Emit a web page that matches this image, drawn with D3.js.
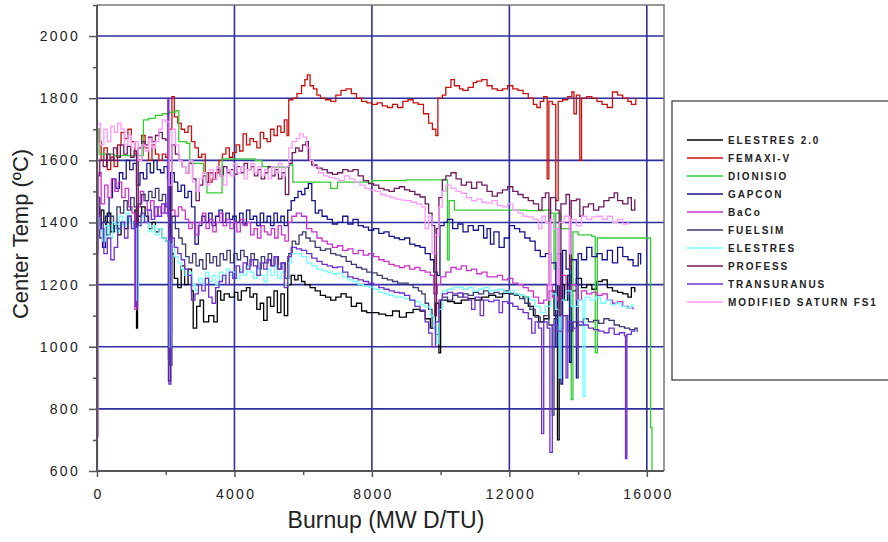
<!DOCTYPE html>
<html>
<head>
<meta charset="utf-8">
<script src="https://cdn.jsdelivr.net/npm/d3@7"></script>
<style>
  body { margin: 0; background: #fff; }
  svg { display: block; font-family: Arial, "Liberation Sans", sans-serif; }
</style>
</head>
<body>
<div id="chart"></div>
<script>
// burnup (MW D/TU), center temperature (degC)
const elestres20 = [[0,1480],[40,1380],[120,1440],[200,1400],[300,1430],[400,1370],[500,1390],[600,1360],[700,1400],[800,1380],[900,1420],[1000,1400],[1100,1440],[1150,1060],[1180,1420],[1300,1450],[1400,1420],[1500,1380],[1600,1400],[1700,1370],[1800,1380],[1900,1350],[2000,1340],[2080,890],[2140,1300],[2250,1220],[2350,1190],[2450,1260],[2550,1200],[2650,1250],[2750,1180],[2800,1060],[2900,1130],[3000,1150],[3100,1080],[3250,1100],[3400,1080],[3500,1180],[3600,1150],[3700,1170],[3850,1160],[4000,1175],[4100,1150],[4200,1180],[4350,1190],[4450,1160],[4550,1170],[4650,1120],[4750,1140],[4850,1085],[4950,1160],[5050,1130],[5150,1180],[5250,1110],[5350,1170],[5450,1100],[5550,1200],[5650,1230],[5750,1215],[5850,1230],[5950,1210],[6050,1200],[6200,1190],[6350,1180],[6500,1165],[6650,1160],[6800,1150],[6950,1160],[7100,1170],[7250,1160],[7400,1130],[7550,1140],[7700,1115],[7850,1110],[8000,1110],[8200,1105],[8400,1100],[8600,1115],[8800,1095],[9000,1110],[9200,1120],[9400,1115],[9550,1090],[9700,1060],[9850,1140],[9950,980],[10000,1150],[10200,1145],[10400,1140],[10600,1150],[10800,1155],[11000,1150],[11200,1160],[11400,1165],[11600,1160],[11800,1172],[12000,1170],[12200,1165],[12400,1160],[12550,1130],[12700,1100],[12850,1080],[13000,1090],[13150,1180],[13300,1100],[13400,700],[13450,1200],[13600,1150],[13700,1230],[13800,1180],[13950,1220],[14100,1190],[14250,1200],[14400,1185],[14550,1210],[14700,1215],[14850,1190],[15000,1180],[15150,1175],[15300,1170],[15450,1160],[15550,1190],[15650,1175]];

const femaxi = [[0,1700],[60,1660],[120,1600],[200,1640],[300,1570],[400,1610],[500,1580],[600,1650],[700,1690],[800,1670],[900,1700],[1000,1660],[1100,1620],[1200,1600],[1300,1680],[1400,1640],[1500,1600],[1600,1650],[1700,1620],[1800,1600],[1900,1620],[2000,1610],[2100,1700],[2180,1805],[2250,1740],[2350,1720],[2450,1700],[2550,1690],[2650,1710],[2750,1660],[2850,1640],[2950,1610],[3050,1620],[3150,1560],[3250,1530],[3350,1540],[3450,1560],[3550,1600],[3650,1620],[3750,1640],[3850,1610],[3950,1625],[4050,1650],[4150,1630],[4250,1685],[4350,1650],[4450,1670],[4550,1660],[4650,1640],[4750,1690],[4850,1670],[4950,1660],[5050,1700],[5150,1680],[5250,1710],[5350,1690],[5450,1730],[5530,1680],[5580,1795],[5700,1800],[5820,1815],[5950,1840],[6050,1860],[6120,1875],[6200,1840],[6300,1830],[6400,1810],[6500,1800],[6650,1795],[6800,1790],[6950,1810],[7100,1825],[7250,1830],[7400,1815],[7550,1800],[7700,1790],[7850,1785],[8000,1780],[8150,1785],[8300,1775],[8450,1770],[8600,1780],[8750,1770],[8900,1790],[9050,1795],[9200,1785],[9350,1780],[9500,1750],[9650,1720],[9760,1700],[9860,1680],[9920,1800],[10050,1810],[10150,1835],[10300,1860],[10400,1840],[10550,1830],[10650,1825],[10800,1835],[10950,1850],[11050,1855],[11200,1860],[11350,1840],[11500,1830],[11650,1825],[11800,1830],[11950,1840],[12100,1830],[12250,1825],[12400,1815],[12550,1800],[12700,1780],[12800,1770],[12900,1790],[13000,1805],[13100,1540],[13150,1790],[13250,1780],[13350,1470],[13420,1790],[13550,1795],[13700,1805],[13820,1820],[13880,1750],[13950,1810],[14050,1600],[14100,1800],[14250,1805],[14400,1800],[14550,1790],[14700,1780],[14850,1770],[15000,1820],[15150,1810],[15300,1800],[15450,1790],[15550,1780],[15680,1800]];

const dionisio = [[0,1700],[60,1620],[500,1615],[1000,1615],[1300,1615],[1350,1730],[1500,1735],[1700,1745],[1900,1750],[2100,1755],[2300,1760],[2380,1660],[2600,1655],[2700,1590],[3000,1590],[3100,1560],[3200,1495],[3600,1495],[3640,1605],[4000,1605],[4600,1600],[4800,1580],[5000,1578],[5600,1585],[5700,1530],[6000,1530],[6500,1530],[6800,1510],[7000,1530],[8000,1535],[9000,1537],[10100,1537],[10200,1280],[10250,1470],[10400,1440],[11000,1440],[12000,1440],[12500,1438],[13000,1440],[13200,1430],[13300,1250],[13350,1430],[13500,1380],[13700,1380],[13800,830],[13850,1370],[14000,1360],[14400,1355],[14500,980],[14560,1350],[15000,1350],[15500,1350],[16100,1350],[16110,740],[16150,600]];

const gapcon = [[0,1450],[80,1380],[160,1320],[250,1420],[350,1480],[450,1540],[550,1510],[650,1560],[750,1540],[850,1600],[950,1570],[1050,1590],[1150,1520],[1250,1560],[1350,1540],[1450,1590],[1550,1560],[1650,1600],[1750,1570],[1850,1560],[1950,1580],[2050,1540],[2080,960],[2140,1560],[2250,1530],[2350,1500],[2450,1520],[2550,1480],[2650,1500],[2750,1450],[2850,1330],[2950,1390],[3050,1420],[3150,1400],[3250,1430],[3350,1390],[3450,1420],[3550,1440],[3650,1400],[3750,1430],[3850,1410],[3950,1420],[4050,1400],[4150,1430],[4250,1395],[4350,1440],[4450,1410],[4550,1420],[4650,1390],[4750,1430],[4850,1400],[4950,1420],[5050,1390],[5150,1430],[5250,1400],[5350,1420],[5450,1390],[5550,1440],[5650,1470],[5750,1480],[5850,1500],[5950,1490],[6050,1510],[6150,1525],[6250,1470],[6350,1430],[6450,1440],[6550,1420],[6700,1410],[6850,1395],[7000,1400],[7150,1420],[7300,1395],[7450,1410],[7600,1390],[7750,1385],[7900,1375],[8050,1380],[8200,1365],[8350,1370],[8500,1355],[8650,1350],[8800,1345],[8950,1350],[9100,1330],[9250,1325],[9400,1320],[9550,1300],[9700,1280],[9800,1240],[9900,1230],[9980,1390],[10100,1400],[10200,1410],[10350,1380],[10500,1395],[10650,1370],[10800,1390],[10950,1375],[11100,1390],[11250,1350],[11350,1380],[11450,1330],[11550,1370],[11700,1320],[11850,1350],[12000,1390],[12150,1380],[12300,1370],[12450,1350],[12600,1340],[12750,1310],[12900,1290],[13050,1300],[13200,1270],[13350,1000],[13400,1300],[13500,880],[13550,1310],[13650,1250],[13750,950],[13800,1280],[13950,900],[14000,1300],[14100,1280],[14250,1320],[14400,1290],[14550,1300],[14700,1280],[14850,1310],[15000,1270],[15150,1320],[15300,1290],[15450,1280],[15600,1260],[15750,1300],[15820,1265]];

const baco = [[0,1300],[40,1560],[120,1460],[220,1520],[320,1480],[420,1540],[520,1500],[620,1530],[720,1480],[820,1510],[920,1450],[1020,1430],[1100,1120],[1160,1450],[1260,1500],[1360,1470],[1460,1440],[1560,1470],[1660,1420],[1760,1450],[1860,1430],[1960,1460],[2060,1420],[2110,1050],[2170,1440],[2270,1420],[2370,1450],[2470,1440],[2570,1410],[2670,1380],[2770,1400],[2870,1360],[2970,1400],[3070,1430],[3170,1380],[3270,1410],[3370,1370],[3470,1400],[3570,1430],[3670,1390],[3770,1410],[3870,1380],[3970,1400],[4070,1370],[4170,1410],[4270,1390],[4370,1400],[4470,1360],[4570,1380],[4670,1350],[4770,1390],[4870,1370],[4970,1360],[5070,1380],[5170,1350],[5270,1390],[5370,1360],[5470,1340],[5570,1400],[5670,1420],[5800,1430],[5950,1420],[6100,1380],[6250,1370],[6400,1350],[6550,1340],[6700,1330],[6850,1320],[7000,1325],[7150,1310],[7300,1315],[7450,1300],[7600,1310],[7750,1295],[7900,1300],[8050,1290],[8200,1280],[8350,1275],[8500,1265],[8650,1260],[8800,1255],[8950,1260],[9100,1250],[9250,1255],[9400,1245],[9550,1240],[9700,1230],[9800,1170],[9900,1200],[10000,1225],[10150,1240],[10300,1255],[10450,1250],[10600,1260],[10750,1245],[10900,1250],[11050,1235],[11200,1240],[11350,1225],[11500,1225],[11650,1230],[11800,1215],[11950,1220],[12100,1205],[12250,1200],[12400,1190],[12550,1180],[12700,1160],[12850,1140],[13000,1150],[13100,1200],[13250,1160],[13400,1150],[13500,1230],[13650,1170],[13800,1200],[13950,1150],[14100,1180],[14250,1170],[14400,1175],[14550,1165],[14700,1170],[14850,1150],[15000,1140],[15150,1145],[15300,1130],[15450,1125],[15600,1120]];

const fuelsim = [[0,1480],[80,1350],[180,1400],[280,1360],[380,1420],[480,1380],[580,1450],[680,1430],[780,1470],[880,1440],[980,1480],[1080,1450],[1150,1180],[1200,1460],[1300,1490],[1400,1470],[1500,1500],[1600,1480],[1700,1510],[1800,1470],[1900,1490],[2000,1450],[2100,940],[2180,1420],[2280,1380],[2380,1350],[2480,1330],[2580,1290],[2680,1270],[2780,1300],[2880,1260],[2980,1280],[3080,1250],[3180,1300],[3280,1270],[3380,1290],[3480,1260],[3580,1300],[3680,1280],[3780,1310],[3880,1270],[3980,1300],[4080,1280],[4180,1310],[4280,1290],[4380,1260],[4480,1300],[4580,1280],[4680,1250],[4780,1290],[4880,1270],[4980,1300],[5080,1260],[5180,1290],[5280,1250],[5380,1270],[5480,1220],[5580,1300],[5680,1340],[5780,1330],[5880,1360],[5980,1370],[6080,1350],[6200,1340],[6350,1320],[6500,1310],[6650,1315],[6800,1300],[6950,1295],[7100,1290],[7250,1275],[7400,1265],[7550,1255],[7700,1250],[7850,1240],[8000,1238],[8150,1230],[8300,1220],[8450,1215],[8600,1210],[8750,1205],[8900,1205],[9050,1200],[9200,1190],[9350,1180],[9450,1170],[9550,1140],[9650,1120],[9750,1060],[9850,1040],[9950,1120],[10050,1160],[10200,1150],[10350,1165],[10500,1160],[10650,1170],[10800,1165],[10950,1175],[11100,1170],[11250,1180],[11400,1170],[11550,1175],[11700,1170],[11850,1180],[12000,1172],[12150,1165],[12300,1155],[12450,1140],[12600,1120],[12750,1095],[12900,1080],[13000,1100],[13150,1070],[13250,780],[13300,1090],[13450,1060],[13550,1100],[13700,1050],[13850,1080],[14000,1070],[14150,1090],[14300,1080],[14450,1085],[14600,1075],[14750,1090],[14900,1085],[15050,1070],[15200,1065],[15350,1060],[15500,1055],[15650,1060],[15720,1048]];

const elestres = [[0,1420],[60,1380],[150,1340],[250,1390],[350,1350],[450,1400],[550,1370],[650,1420],[750,1390],[850,1430],[950,1400],[1050,1380],[1150,1150],[1200,1390],[1300,1420],[1400,1400],[1500,1370],[1600,1390],[1700,1360],[1800,1380],[1900,1350],[2000,1340],[2100,1000],[2160,1330],[2260,1290],[2360,1270],[2460,1250],[2560,1230],[2660,1240],[2760,1200],[2860,1180],[2960,1220],[3060,1200],[3160,1240],[3260,1210],[3360,1230],[3460,1200],[3560,1240],[3660,1220],[3760,1250],[3860,1230],[3960,1240],[4060,1220],[4160,1250],[4260,1230],[4360,1260],[4460,1240],[4560,1220],[4660,1250],[4760,1230],[4860,1210],[4960,1250],[5060,1230],[5160,1260],[5260,1220],[5360,1240],[5460,1200],[5560,1270],[5660,1300],[5800,1300],[5950,1290],[6100,1270],[6250,1260],[6400,1250],[6550,1245],[6700,1240],[6850,1235],[7000,1237],[7150,1225],[7300,1215],[7450,1210],[7600,1200],[7750,1195],[7900,1192],[8050,1185],[8200,1175],[8350,1170],[8500,1165],[8650,1160],[8800,1160],[8950,1155],[9100,1150],[9250,1145],[9400,1135],[9550,1128],[9700,1100],[9800,1060],[9880,1010],[9950,1120],[10050,1180],[10200,1185],[10350,1190],[10500,1192],[10650,1185],[10800,1190],[10950,1180],[11100,1185],[11250,1190],[11400,1180],[11550,1182],[11700,1185],[11850,1175],[12000,1180],[12150,1170],[12300,1165],[12450,1160],[12600,1150],[12750,1130],[12900,1110],[13050,1130],[13200,1170],[13350,1120],[13450,900],[13500,1150],[13650,1180],[13800,1130],[14000,1150],[14140,840],[14200,1160],[14350,1150],[14500,1160],[14650,1140],[14800,1150],[14950,1135],[15100,1140],[15250,1130],[15400,1125],[15550,1135],[15600,1128]];

const profess = [[0,1550],[80,1600],[180,1580],[280,1620],[380,1600],[480,1640],[580,1610],[680,1650],[780,1620],[880,1645],[980,1610],[1080,1630],[1150,1400],[1200,1640],[1300,1660],[1400,1650],[1500,1675],[1600,1660],[1700,1680],[1800,1690],[1900,1670],[2000,1665],[2100,1440],[2180,1650],[2280,1620],[2380,1600],[2480,1580],[2580,1560],[2680,1590],[2780,1540],[2880,1470],[2980,1520],[3080,1550],[3180,1530],[3280,1560],[3380,1540],[3480,1570],[3580,1550],[3680,1580],[3780,1560],[3880,1570],[3980,1555],[4080,1580],[4180,1560],[4280,1590],[4380,1570],[4480,1580],[4580,1550],[4680,1570],[4780,1540],[4880,1560],[4980,1580],[5080,1550],[5180,1570],[5280,1540],[5380,1560],[5480,1490],[5580,1590],[5680,1625],[5780,1640],[5880,1630],[5980,1650],[6080,1660],[6150,1600],[6250,1585],[6400,1575],[6550,1570],[6700,1560],[6850,1555],[7000,1560],[7150,1570],[7300,1565],[7450,1570],[7600,1550],[7750,1535],[7900,1525],[8050,1520],[8200,1510],[8350,1505],[8500,1500],[8650,1510],[8800,1515],[8950,1505],[9100,1500],[9250,1490],[9400,1482],[9550,1460],[9650,1430],[9750,1390],[9830,1100],[9880,1380],[9950,1480],[10050,1537],[10150,1550],[10300,1560],[10450,1540],[10600,1520],[10750,1530],[10900,1510],[11050,1530],[11200,1520],[11350,1500],[11500,1485],[11650,1495],[11800,1505],[11950,1515],[12100,1500],[12250,1490],[12400,1480],[12550,1470],[12700,1460],[12850,1440],[12950,1480],[13050,1495],[13150,1200],[13200,1480],[13350,1440],[13450,1100],[13500,1460],[13650,1490],[13750,1250],[13800,1470],[13950,1475],[14050,1420],[14150,1450],[14300,1460],[14450,1440],[14600,1450],[14750,1470],[14900,1480],[15050,1495],[15150,1470],[15300,1460],[15450,1480],[15550,1440],[15650,1475]];

const transuranus = [[0,710],[30,1420],[100,1380],[200,1300],[300,1350],[400,1280],[500,1320],[600,1380],[700,1400],[800,1350],[900,1420],[1000,1380],[1080,1400],[1120,1130],[1180,1390],[1280,1430],[1380,1400],[1480,1440],[1580,1410],[1680,1450],[1780,1420],[1880,1460],[1980,1430],[2060,1800],[2090,880],[2150,1350],[2250,1320],[2350,1300],[2450,1280],[2550,1250],[2650,1230],[2750,1150],[2850,1170],[2950,1200],[3050,1180],[3150,1220],[3250,1160],[3350,1140],[3450,1190],[3550,1210],[3650,1230],[3750,1200],[3850,1240],[3950,1220],[4050,1260],[4150,1240],[4250,1270],[4350,1250],[4450,1280],[4550,1260],[4650,1230],[4750,1270],[4850,1250],[4950,1280],[5050,1260],[5150,1290],[5250,1250],[5350,1270],[5450,1190],[5550,1290],[5650,1320],[5800,1315],[5950,1310],[6100,1300],[6250,1285],[6400,1275],[6550,1265],[6700,1260],[6850,1255],[7000,1257],[7150,1240],[7300,1225],[7450,1220],[7600,1215],[7750,1210],[7900,1205],[8050,1200],[8200,1190],[8350,1185],[8500,1180],[8650,1175],[8800,1173],[8950,1165],[9100,1150],[9250,1130],[9400,1118],[9550,1080],[9650,1044],[9750,1000],[9850,1080],[9950,1150],[10050,1170],[10200,1175],[10350,1170],[10500,1173],[10650,1160],[10800,1150],[10900,1120],[11000,1160],[11150,1100],[11250,1150],[11400,1145],[11550,1150],[11700,1110],[11800,1145],[11950,1140],[12100,1130],[12250,1120],[12400,1110],[12550,1090],[12650,1044],[12750,1080],[12850,1060],[12940,720],[13000,1080],[13100,1060],[13180,660],[13250,1070],[13400,1050],[13550,1100],[13650,900],[13700,1080],[13850,1060],[13950,1000],[14000,1080],[14150,1070],[14300,1060],[14450,1055],[14600,1050],[14750,1045],[14900,1060],[15050,1040],[15200,1045],[15350,1035],[15380,640],[15420,1040],[15550,1050],[15650,1054]];

const saturn = [[0,600],[20,1720],[100,1650],[200,1700],[300,1660],[400,1710],[500,1690],[600,1720],[700,1700],[800,1650],[900,1680],[1000,1640],[1100,1660],[1200,1600],[1300,1650],[1400,1630],[1500,1670],[1600,1640],[1700,1660],[1800,1700],[1900,1730],[2000,1725],[2100,1520],[2180,1700],[2280,1650],[2380,1600],[2480,1580],[2580,1560],[2680,1600],[2780,1530],[2880,1500],[2980,1540],[3080,1560],[3180,1520],[3280,1570],[3380,1540],[3480,1580],[3580,1550],[3680,1520],[3780,1570],[3880,1550],[3980,1590],[4080,1560],[4180,1580],[4280,1540],[4380,1570],[4480,1590],[4580,1560],[4680,1580],[4780,1550],[4880,1570],[4980,1540],[5080,1580],[5180,1560],[5280,1590],[5380,1550],[5480,1580],[5580,1640],[5680,1660],[5800,1670],[5900,1685],[6000,1675],[6100,1640],[6200,1600],[6300,1580],[6450,1560],[6600,1550],[6750,1545],[6900,1540],[7050,1535],[7200,1550],[7350,1540],[7500,1530],[7650,1520],[7800,1510],[7950,1504],[8100,1500],[8250,1490],[8400,1485],[8550,1480],[8700,1475],[8850,1472],[9000,1470],[9150,1465],[9300,1460],[9450,1450],[9550,1380],[9650,1420],[9750,1300],[9850,1360],[9950,1450],[10050,1500],[10150,1520],[10300,1510],[10450,1500],[10600,1494],[10750,1480],[10900,1470],[11050,1475],[11200,1465],[11350,1462],[11500,1470],[11650,1455],[11800,1450],[11950,1460],[12100,1440],[12250,1430],[12400,1420],[12550,1418],[12700,1410],[12850,1380],[12950,1420],[13050,1400],[13150,1150],[13200,1410],[13300,1380],[13400,1200],[13450,1400],[13600,1420],[13750,1300],[13800,1410],[13950,1390],[14100,1420],[14250,1410],[14400,1418],[14550,1420],[14700,1410],[14850,1420],[15000,1400],[15150,1410],[15300,1395],[15450,1402]];

const seriesNames = ["ELESTRES 2.0", "FEMAXI-V", "DIONISIO", "GAPCON", "BaCo", "FUELSIM", "ELESTRES", "PROFESS", "TRANSURANUS", "MODIFIED SATURN FS1"];
const seriesData = [elestres20, femaxi, dionisio, gapcon, baco, fuelsim, elestres, profess, transuranus, saturn];
const seriesColors = ["#000000", "#c81010", "#33cc33", "#14148c", "#cc33cc", "#3a3a70", "#70ffff", "#6e1a5e", "#7030d0", "#ff99ff"];

const xTicks = [0, 4000, 8000, 12000, 16000];
const xMinor = [2000, 6000, 10000, 14000];
const yTicks = [600, 800, 1000, 1200, 1400, 1600, 1800, 2000];
const yMinor = [700, 900, 1100, 1300, 1500, 1700, 1900, 2100];

const
    width = 888,
    height = 542;

var svg = d3
    .select("#chart")
    .append("svg")
    .attr("width", width)
    .attr("height", height)

var x = d3.scaleLinear().domain([0, 16500]).range([97, 664]);
var y = d3.scaleLinear().domain([600, 2100]).range([471, 5]);

svg.append("defs").append("clipPath").attr("id", "plot")
    .append("rect")
    .attr("x", x(0)).attr("y", y(2100))
    .attr("width", x(16500) - x(0)).attr("height", y(600) - y(2100));

// grid
svg.append("g")
    .selectAll("line")
    .data(xTicks.slice(1))
    .enter()
    .append("line")
    .attr("x1", d => x(d)).attr("x2", d => x(d))
    .attr("y1", y(600)).attr("y2", y(2100))
    .style("stroke", "#2e2e9e")
    .style("stroke-width", 1.6);

svg.append("g")
    .selectAll("line")
    .data(yTicks.slice(1))
    .enter()
    .append("line")
    .attr("x1", x(0)).attr("x2", x(16500))
    .attr("y1", d => y(d)).attr("y2", d => y(d))
    .style("stroke", "#2e2e9e")
    .style("stroke-width", 1.6);

// frame top/right
svg.append("path")
    .attr("d", `M${x(0)},${y(2100)}H${x(16500)}V${y(600)}`)
    .style("fill", "none")
    .style("stroke", "#777")
    .style("stroke-width", 1.5);

// series
var line = d3.line()
    .x(d => x(d[0]))
    .y(d => y(d[1]))
    .curve(d3.curveStepAfter);

svg.append("g")
    .attr("clip-path", "url(#plot)")
    .selectAll("path")
    .data(seriesData)
    .enter()
    .append("path")
    .attr("d", d => line(d))
    .style("fill", "none")
    .style("stroke", (d, i) => seriesColors[i])
    .style("stroke-width", 1.3);

// axes
var xaxis = svg.append("g")
    .attr("transform", `translate(0, ${y(600)})`)
    .call(d3.axisBottom(x).tickValues(xTicks).tickSize(6).tickPadding(12).tickFormat(d3.format("d")));
svg.append("g")
    .attr("transform", `translate(0, ${y(600)})`)
    .call(d3.axisBottom(x).tickValues(xMinor).tickSize(4).tickFormat(""));

var yaxis = svg.append("g")
    .attr("transform", `translate(${x(0)}, 0)`)
    .call(d3.axisLeft(y).tickValues(yTicks).tickSize(8).tickPadding(9).tickFormat(d3.format("d")));
svg.append("g")
    .attr("transform", `translate(${x(0)}, 0)`)
    .call(d3.axisLeft(y).tickValues(yMinor).tickSize(4).tickFormat(""));

svg.selectAll(".domain").remove();
svg.selectAll(".tick line").style("stroke", "#555").style("stroke-width", 1.5);
svg.selectAll(".tick text")
    .style("font-size", "14px")
    .style("letter-spacing", "2.3px")
    .style("fill", "#222")
    .style("font-family", "Arial, 'Liberation Sans', sans-serif");
xaxis.selectAll(".tick text").attr("dx", "1.1px");

svg.append("path")
    .attr("d", `M${x(0)},${y(2100)}V${y(600)}H${x(16500)}`)
    .style("fill", "none")
    .style("stroke", "#555")
    .style("stroke-width", 2);

// titles
svg.append("text")
    .attr("transform", "translate(28, 234) rotate(-90)")
    .style("text-anchor", "middle")
    .style("font-size", "22px")
    .style("fill", "#222")
    .text("Center Temp (\u00baC)");

svg.append("text")
    .attr("x", 386)
    .attr("y", 528)
    .style("text-anchor", "middle")
    .style("font-size", "23px")
    .style("fill", "#222")
    .text("Burnup (MW D/TU)");

// legend
var legend = svg.append("g");
legend.append("rect")
    .attr("x", 672).attr("y", 101)
    .attr("width", 240).attr("height", 279)
    .style("fill", "#fff")
    .style("stroke", "#333")
    .style("stroke-width", 1.2);

var items = legend.selectAll("g.item")
    .data(seriesNames)
    .enter()
    .append("g")
    .attr("class", "item")
    .attr("transform", (d, i) => `translate(0, ${140 + i * 18})`);

items.append("line")
    .attr("x1", 687).attr("x2", 723)
    .style("stroke", (d, i) => seriesColors[i])
    .style("stroke-width", 1.5);

items.append("text")
    .attr("x", 728)
    .attr("dy", "0.35em")
    .style("font-size", "10px")
    .style("font-weight", "bold")
    .style("letter-spacing", "1.9px")
    .style("fill", "#222")
    .text(d => d);
</script>
</body>
</html>
